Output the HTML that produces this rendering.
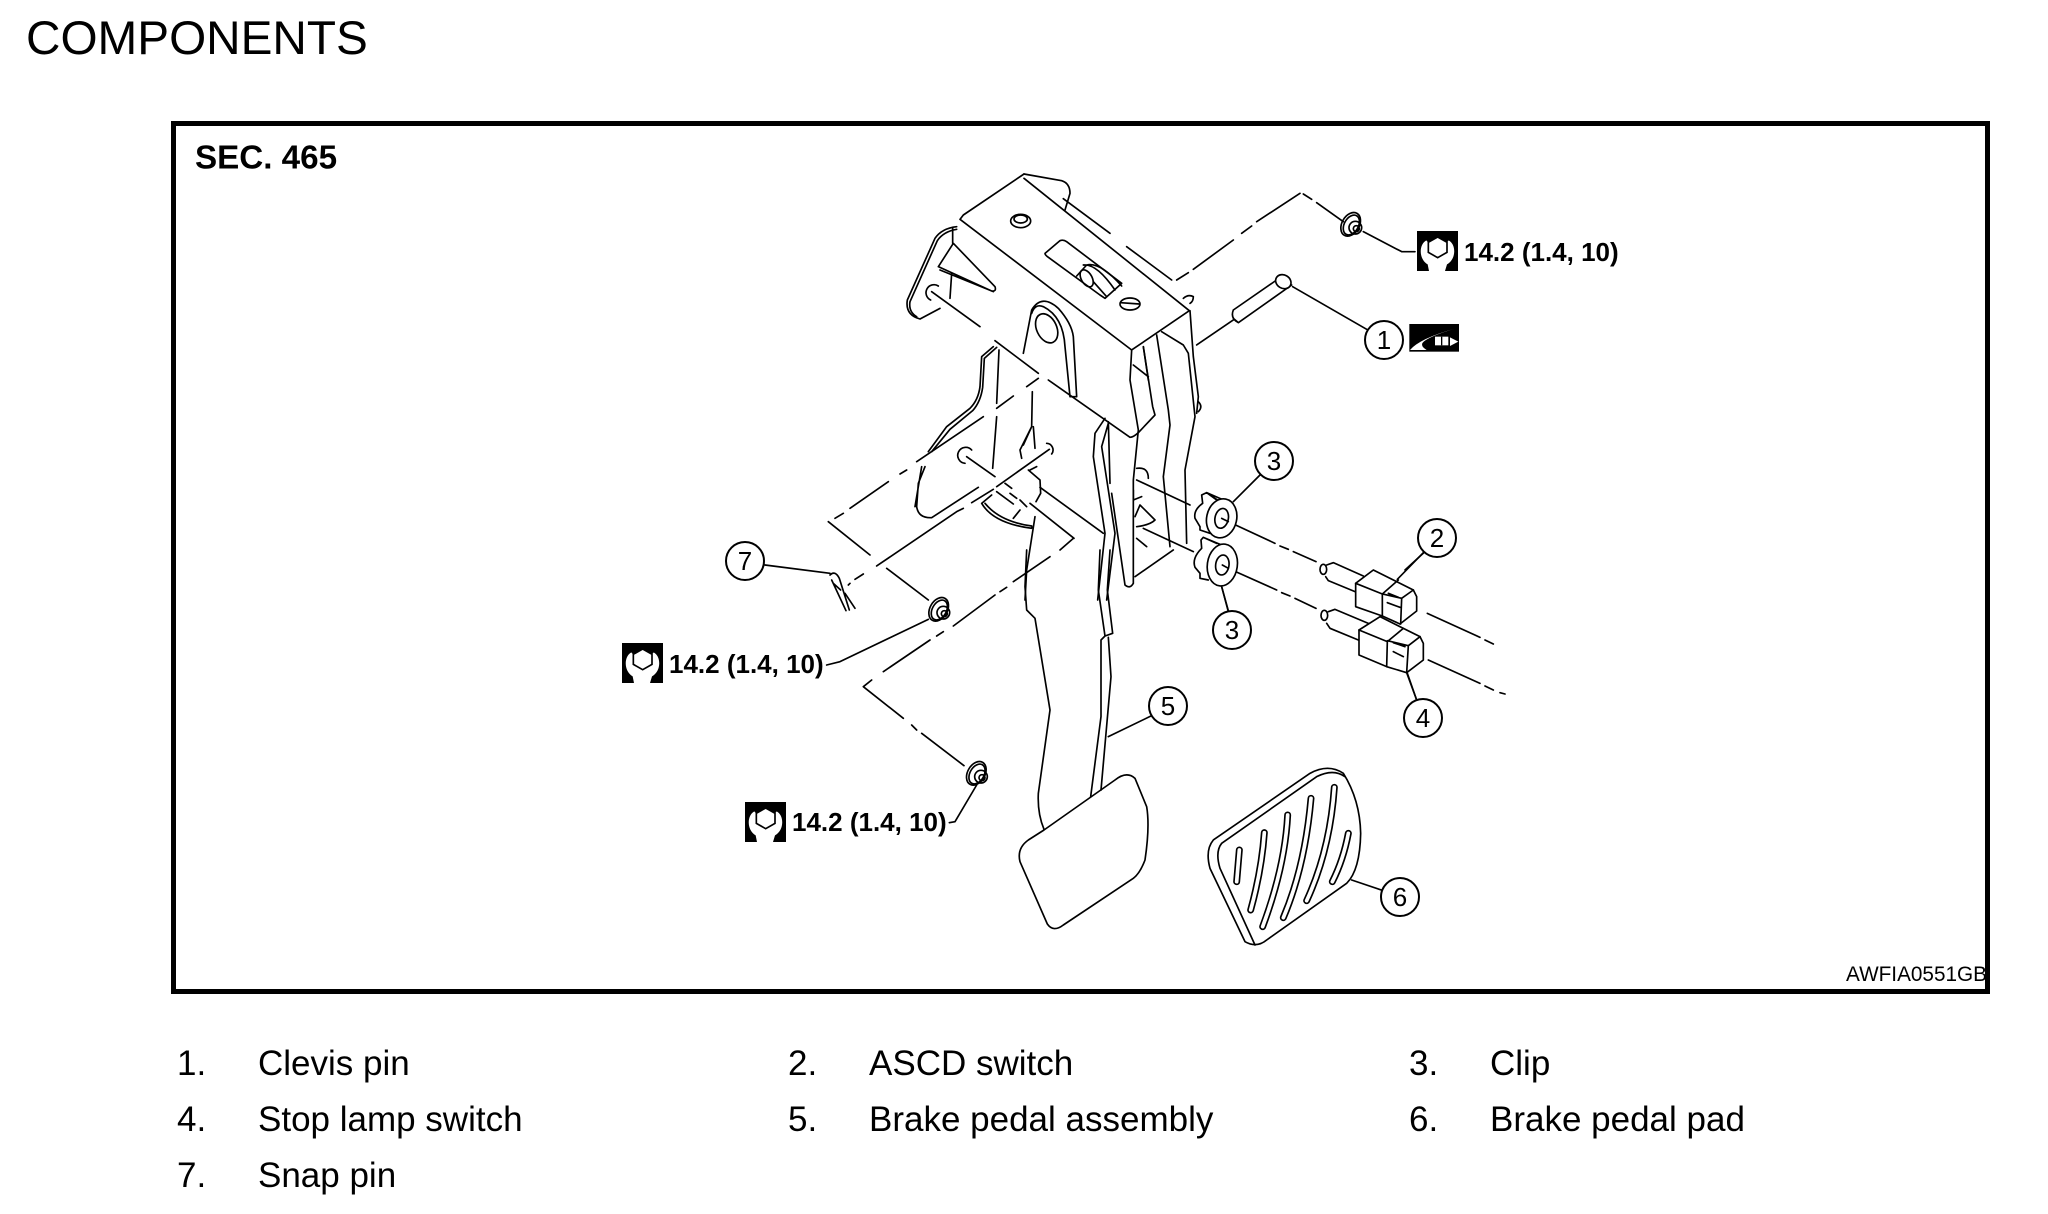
<!DOCTYPE html>
<html><head><meta charset="utf-8"><style>
html,body{margin:0;padding:0;background:#fff;width:2048px;height:1214px;overflow:hidden}
svg{display:block}
text{font-family:"Liberation Sans",sans-serif;fill:#000}
.d path,.d ellipse,.d circle{fill:none;stroke:#000;stroke-width:5;stroke-linejoin:round;stroke-linecap:round}
.d .w{fill:#fff}
.c circle{fill:#fff;stroke:#000;stroke-width:2}
.c text{font-size:26px;text-anchor:middle}
.b{font-weight:bold;font-size:26px}
.l{font-size:35px}
</style></head><body>
<svg width="2048" height="1214" viewBox="0 0 2048 1214" xmlns="http://www.w3.org/2000/svg">
<defs>
<g id="wr">
<rect width="123" height="120" fill="#000"/>
<path d="M28,28C5,40 5,85 32,100L36,120H84L90,100C118,85 118,40 95,28L62,70Z" fill="#fff"/>
<path d="M62,18L90,34V64L62,80L34,64V34Z" fill="#fff" stroke="#000" stroke-width="5"/>
<path d="M28,10H95V28L62,18L28,28Z" fill="#000"/>
</g>
<g id="nut" fill="none" stroke="#000" stroke-width="5">
<ellipse cx="-6" cy="-2" rx="26" ry="38" transform="rotate(30 -6 -2)"/>
<ellipse cx="-4" cy="0" rx="21" ry="32" transform="rotate(30 -4 0)"/>
<circle cx="8" cy="8" r="19"/>
<circle cx="11" cy="11" r="9"/>
</g>
</defs>

<text x="26" y="54" font-size="47.7">COMPONENTS</text>
<rect x="173.5" y="123.5" width="1814" height="868" fill="none" stroke="#000" stroke-width="5"/>
<text x="195" y="168.5" font-size="33.2" font-weight="bold">SEC. 465</text>
<text x="1846" y="981" font-size="21" textLength="141" lengthAdjust="spacingAndGlyphs">AWFIA0551GB</text>

<!-- zoom-1 coordinates -->
<g class="d" transform="translate(800,150) scale(.33333)">
<path d="M672,72L490,195L480,208L995,600L1168,482L672,85"/>
<path d="M672,72L785,92Q810,100 810,130L795,180"/>
<path d="M790,146L930,250M980,290L1115,390M1130,390L1165,368M1180,358L1300,270M1325,250L1355,228M1370,215L1500,130"/>
<ellipse cx="662" cy="213" rx="30" ry="20"/><ellipse cx="662" cy="207" rx="20" ry="12"/>
<ellipse cx="990" cy="462" rx="30" ry="18"/><path d="M962,458L1018,462"/>
<path d="M735,310L780,272Q790,268 800,275L965,400L915,445L900,435L745,322Q735,315 735,310Z"/>
<path d="M830,378L860,345Q900,335 965,408M850,345Q890,340 945,420M880,395L920,440"/>
<ellipse cx="860" cy="385" rx="16" ry="28" transform="rotate(-30 860 385)"/>
<path d="M470,230Q425,235 405,265L322,450Q315,495 360,507L420,475"/>
<path d="M470,238Q430,245 412,272L330,455Q325,485 350,500"/>
<path d="M460,280L415,350L575,423Q590,425 585,410Z M420,360L580,425M458,280V232M455,370L450,445"/>
<path d="M415,408A24,24 0 1 0 392,450"/>
<path d="M395,425L540,530M585,572L715,670M715,685L680,710M640,738L590,775M550,800L350,935M320,960L300,972M265,995L150,1075M130,1090L105,1105M85,1115L210,1215M260,1255L385,1350"/>
<path d="M745,690L990,862Q1000,862 1015,848L1065,795L1058,770L1030,590"/>
<path d="M995,600L990,690L1015,840L1000,990L1000,1300Q990,1318 975,1305L935,1030"/>
<path d="M670,610L695,480Q725,430 775,475Q815,520 820,560L830,740H810L795,590Q790,500 730,470Q705,460 695,490"/>
<ellipse cx="740" cy="535" rx="30" ry="46" transform="rotate(-25 740 535)"/>
<path d="M1030,590L1045,690M1000,645L1045,680"/>
<path d="M1070,555L1105,780L1110,825L1090,980L1110,1190"/>
<path d="M1085,545L1150,585L1165,610L1185,800L1155,960L1160,1180"/>
<path d="M1170,482L1180,620L1195,740L1190,790"/>
<path d="M1195,755Q1210,770 1195,785"/>
<path d="M1150,445Q1165,432 1180,440Q1180,455 1170,460"/>
<path d="M1005,1280L1120,1200"/>
<path d="M1010,955Q1045,950 1045,985M1010,990L1170,1065M1030,1135L1180,1205"/>
<path d="M1000,1020V1050L1025,1040M1005,1100L1020,1065L1065,1110Q1050,1125 1010,1130M1010,1165L1040,1190"/>
<path d="M580,590L545,620L540,710Q535,750 510,775L440,830L385,905"/>
<path d="M590,592L553,625L548,712Q542,755 518,782L450,838L395,905"/>
<path d="M375,950L355,1000L350,1070Q355,1105 395,1103L535,1012M365,950L345,1070"/>
<path d="M597,600L590,760M590,800L578,955M697,725L695,830L660,900L665,925M695,830L670,885M700,830L705,895"/>
<path d="M515,900A24,24 0 1 0 495,940M740,880A20,20 0 0 1 755,912"/>
<path d="M500,920L585,980M590,1025L640,1062M690,1060L822,1165M720,1012L910,1150"/>
<path d="M748,898L590,1010M580,1018L515,1058M490,1075L470,1085L230,1248M190,1272L165,1288M145,1305L150,1300"/>
<path d="M575,1035L545,1060Q580,1120 695,1135V1128Q600,1115 555,1060M640,1105L660,1080"/>
<path d="M705,1100L680,1260L675,1350"/>
<path d="M685,960L720,990L722,1030L708,1055M710,950L690,960M615,1000L635,1015M630,1030L650,1045M660,1050L680,1070"/>
<path d="M915,805L885,850L880,920L915,1150L893,1350M925,820L905,890L945,1150L920,1350M925,815L930,1000"/>
<path d="M1190,585L1300,510"/>
</g>

<!-- zoom-2 coordinates -->
<g class="d" transform="translate(1000,550) scale(.33333)">
<path d="M132,840L345,690Q380,662 405,685L440,770Q450,830 435,930Q420,970 400,985L190,1125Q160,1148 142,1122L60,935Q50,895 85,870Z"/>
<path d="M80,0L75,110L80,180L105,205L150,480L115,730Q112,790 132,838"/>
<path d="M300,0L295,120L315,258M330,0L322,120L338,250L315,258L303,270L303,500L272,740M325,262L333,380L303,720"/>
<path d="M325,560L455,497M665,110L685,185M1222,370L1250,450M1055,990L1150,1022"/>
<path d="M640,870L930,670Q985,640 1030,670Q1080,750 1082,850Q1080,960 1040,1000L800,1170Q770,1195 735,1175L630,955Q615,900 640,870Z"/>
<path d="M665,880L950,680Q1000,655 1035,680M665,880Q645,905 660,955L765,1185"/>
<g>
<path style="stroke-width:21" d="M718,900L710,995M793,848Q785,960 752,1080M863,795Q855,950 788,1130M933,745Q915,950 850,1103M1003,712Q990,900 920,1052M1045,850Q1030,930 997,995"/>
<path style="stroke:#fff;stroke-width:11" d="M718,900L710,995M793,848Q785,960 752,1080M863,795Q855,950 788,1130M933,745Q915,950 850,1103M1003,712Q990,900 920,1052M1045,850Q1030,930 997,995"/>
</g>
</g>

<!-- zoom-3 coordinates -->
<g class="d" transform="translate(600,500) scale(.33333)">
<path d="M495,195L690,220M985,358L720,485L680,495M1130,855L1065,965L1048,968"/>
<path d="M690,225Q705,210 718,235L748,330M695,240L738,332M735,280L765,325M700,250L722,270"/>
<path d="M1420,115L1380,150M1350,170L1240,245M1220,262L1200,275M1185,285L1060,378M1030,395L1010,408M990,420L850,515M815,540L790,560L910,655M935,675L950,690M965,700L1092,797"/>
<use href="#nut" x="1022" y="330"/>
<use href="#nut" x="1135" y="822"/>
</g>

<!-- zoom-4 coordinates -->
<g class="d" transform="translate(1150,170) scale(.33333)">
<path d="M460,72L485,88M500,98L580,155M640,185L755,245H795"/>
<use href="#nut" x="608" y="165"/>
<path d="M428,350L650,478M250,445L265,458L425,345M250,420L380,330M250,420Q240,445 265,458"/>
<ellipse cx="400" cy="335" rx="24" ry="20" class="w" transform="rotate(30 400 335)"/>
<path d="M250,995L330,915M765,1200L825,1145"/>
<rect x="778" y="462" width="149" height="83" fill="#000"/>
<path d="M780,540Q810,505 915,476Q850,495 825,512Q805,525 830,540Z" style="fill:#fff;stroke:none"/>
<rect x="855" y="500" width="40" height="26" fill="#fff"/>
<rect x="873" y="500" width="4" height="26" fill="#000"/>
<path d="M900,502L925,515L900,528Z" style="fill:#fff;stroke:none"/>
</g>

<!-- zoom-9 coordinates -->
<g class="d" transform="translate(1180,480) scale(.33333)">
<path d="M145,125L285,190M300,198L325,208M340,215L408,245M742,400L900,472M915,480L940,492"/>
<path d="M145,265L290,330M305,338L330,348M345,355L408,385M745,540L900,610M915,618L940,630M960,638L975,642"/>
<path d="M110,60L80,38L65,45L68,70Q40,90 45,115L60,140V150L90,160M80,38L135,62M90,45L120,65"/>
<ellipse class="w" cx="125" cy="115" rx="45" ry="59" transform="rotate(12 125 115)"/>
<ellipse cx="125" cy="115" rx="20" ry="30" transform="rotate(12 125 115)"/>
<path d="M125,115L145,125"/>
<path d="M110,190L70,172L63,180L65,205Q35,235 45,262L60,280V295L85,300M70,172L125,195"/>
<ellipse class="w" cx="127" cy="255" rx="45" ry="63" transform="rotate(8 127 255)"/>
<ellipse cx="127" cy="255" rx="20" ry="30" transform="rotate(8 127 255)"/>
<path d="M127,255L145,265M125,320L145,392"/>
<ellipse cx="430" cy="268" rx="10" ry="15"/>
<path d="M440,255L460,248L550,288M437,290L445,302L525,335"/>
<path class="w" d="M527,310L580,270L700,330L710,350V393L660,432L607,408L527,380Z"/>
<path d="M527,310L607,342L655,300M607,342V408M700,330L665,355L607,342M665,355L662,432M625,340L655,352M622,368L660,382M652,298L730,218"/>
<ellipse cx="433" cy="406" rx="10" ry="15"/>
<path d="M445,395L465,388L565,430M440,430L450,445L535,480"/>
<path class="w" d="M537,450L600,410L720,470L730,490V540L680,578L620,560L537,525Z"/>
<path d="M537,450L622,485L670,445M622,485L620,560M720,470L685,497L622,482M685,497L680,578M640,488L675,500M640,515L670,530M680,578L710,660"/>
</g>

<!-- icons and torque labels -->
<use href="#wr" transform="translate(1417,231) scale(.33333)"/>
<use href="#wr" transform="translate(622,643) scale(.33333)"/>
<use href="#wr" transform="translate(745,802) scale(.33333)"/>
<text class="b" x="1464" y="261">14.2 (1.4, 10)</text>
<text class="b" x="669" y="673">14.2 (1.4, 10)</text>
<text class="b" x="792" y="831">14.2 (1.4, 10)</text>

<!-- numbered callouts -->
<g class="c">
<circle cx="1384" cy="340" r="19"/><text x="1384" y="349">1</text>
<circle cx="1274" cy="461" r="19"/><text x="1274" y="470">3</text>
<circle cx="1437" cy="538" r="19"/><text x="1437" y="547">2</text>
<circle cx="1232" cy="630" r="19"/><text x="1232" y="639">3</text>
<circle cx="1168" cy="706" r="19"/><text x="1168" y="715">5</text>
<circle cx="1423" cy="718" r="19"/><text x="1423" y="727">4</text>
<circle cx="1400" cy="897" r="19"/><text x="1400" y="906">6</text>
<circle cx="745" cy="561" r="19"/><text x="745" y="570">7</text>
</g>

<!-- parts list -->
<g class="l">
<text x="177" y="1075">1.</text><text x="258" y="1075">Clevis pin</text>
<text x="788" y="1075">2.</text><text x="869" y="1075">ASCD switch</text>
<text x="1409" y="1075">3.</text><text x="1490" y="1075">Clip</text>
<text x="177" y="1131">4.</text><text x="258" y="1131">Stop lamp switch</text>
<text x="788" y="1131">5.</text><text x="869" y="1131">Brake pedal assembly</text>
<text x="1409" y="1131">6.</text><text x="1490" y="1131">Brake pedal pad</text>
<text x="177" y="1187">7.</text><text x="258" y="1187">Snap pin</text>
</g>
</svg>
</body></html>
